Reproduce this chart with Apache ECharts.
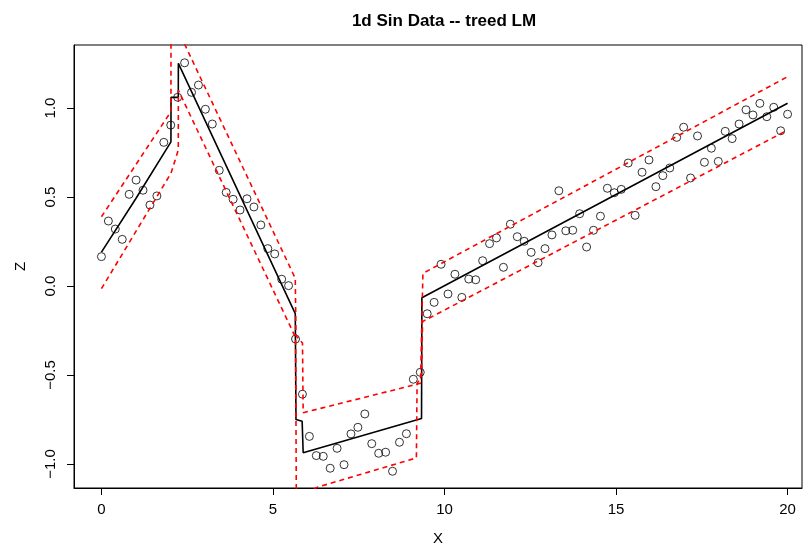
<!DOCTYPE html>
<html>
<head>
<meta charset="utf-8">
<script src="https://cdn.jsdelivr.net/npm/echarts@6/dist/echarts.min.js"></script>
<style>html,body{margin:0;padding:0;background:#fff}#c{width:808px;height:551px}</style>
</head>
<body>
<div id="c"></div>
<script>
// Observed data points
var xPts = [0,0.202,0.404,0.606,0.808,1.010,1.212,1.414,1.616,1.818,2.020,2.222,2.424,2.626,2.828,3.030,3.232,3.434,3.636,3.838,4.040,4.242,4.444,4.646,4.848,5.051,5.253,5.455,5.657,5.859,6.061,6.263,6.465,6.667,6.869,7.071,7.273,7.475,7.677,7.879,8.081,8.283,8.485,8.687,8.889,9.091,9.293,9.495,9.697,9.899,10.101,10.303,10.505,10.707,10.909,11.111,11.313,11.515,11.717,11.919,12.121,12.323,12.525,12.727,12.929,13.131,13.333,13.535,13.737,13.939,14.141,14.343,14.545,14.747,14.949,15.152,15.354,15.556,15.758,15.960,16.162,16.364,16.566,16.768,16.970,17.172,17.374,17.576,17.778,17.980,18.182,18.384,18.586,18.788,18.990,19.192,19.394,19.596,19.798,20.0];
var zPts = [0.165,0.365,0.32,0.262,0.515,0.595,0.538,0.455,0.506,0.807,0.904,1.06,1.254,1.088,1.129,0.993,0.91,0.65,0.526,0.487,0.427,0.49,0.444,0.343,0.21,0.18,0.038,0.002,-0.298,-0.608,-0.845,-0.953,-0.957,-1.024,-0.912,-1.004,-0.831,-0.794,-0.719,-0.886,-0.94,-0.934,-1.041,-0.878,-0.83,-0.524,-0.485,-0.156,-0.092,0.122,-0.045,0.066,-0.064,0.039,0.035,0.142,0.238,0.27,0.105,0.347,0.277,0.251,0.189,0.131,0.21,0.287,0.535,0.31,0.313,0.406,0.219,0.313,0.392,0.549,0.524,0.543,0.691,0.397,0.639,0.708,0.558,0.62,0.663,0.835,0.892,0.607,0.843,0.695,0.774,0.7,0.869,0.828,0.91,0.99,0.961,1.026,0.951,1.004,0.872,0.965];

// Treed LM predictive mean
var meanX = [0,1.0,2.026,2.028,2.24,2.242,5.65,5.67,5.85,5.88,9.33,9.34,20];
var meanZ = [0.19,0.49,0.81,1.06,1.06,1.251,-0.155,-0.75,-0.76,-0.937,-0.745,-0.066,1.027];

// Upper quantile
var upX = [0,2.026,2.028,2.24,2.242,5.65,5.67,5.86,5.88,9.30,9.37,20];
var upZ = [0.389,0.98,1.55,1.55,1.433,0.043,-0.28,-0.32,-0.712,-0.547,0.071,1.176];

// Lower quantile
var loX = [0,2.026,2.24,2.242,5.66,5.68,6.3,9.18,9.20,9.33,9.36,20];
var loZ = [-0.015,0.633,0.764,1.10,-0.29,-1.2,-1.13,-0.966,-0.55,-0.5,-0.2,0.876];

var xTicks = [0,5,10,15,20];
var yTicks = [-1,-0.5,0,0.5,1];
var yTickLabels = ['\u22121.0','\u22120.5','0.0','0.5','1.0'];

function pairs(a,b){var r=[];for(var i=0;i<a.length;i++)r.push([a[i],b[i]]);return r;}

var chart = echarts.init(document.getElementById('c'), null, {renderer:'canvas'});
var font = 'Liberation Sans, Arial, Helvetica, sans-serif';
chart.setOption({
  animation:false,
  backgroundColor:'#fff',
  title:{text:'1d Sin Data -- treed LM',left:439,top:8,textAlign:'center',
    textStyle:{fontFamily:font,fontWeight:'bold',fontSize:17,color:'#000'}},
  grid:{left:74,right:6,top:45,bottom:63,show:true,borderColor:'#000',borderWidth:1,backgroundColor:'transparent'},
  xAxis:{type:'value',min:-0.80,max:20.42,position:'bottom',
    name:'X',nameLocation:'middle',nameGap:43,
    nameTextStyle:{fontFamily:font,fontSize:15,color:'#000'},
    axisLine:{show:true,onZero:false,lineStyle:{color:'#000',width:1}},splitLine:{show:false},
    axisTick:{show:true,length:7,inside:false,customValues:xTicks,lineStyle:{color:'#000',width:1}},
    axisLabel:{customValues:xTicks,margin:14,fontFamily:font,fontSize:15,color:'#000'}},
  yAxis:{type:'value',min:-1.135,max:1.354,position:'left',
    name:'Z',nameLocation:'middle',nameGap:46,nameRotate:90,
    nameTextStyle:{fontFamily:font,fontSize:15,color:'#000'},
    axisLine:{show:true,onZero:false,lineStyle:{color:'#000',width:1}},splitLine:{show:false},
    axisTick:{show:true,length:7,inside:false,customValues:yTicks,lineStyle:{color:'#000',width:1}},
    axisLabel:{customValues:yTicks,rotate:90,margin:16,fontFamily:font,fontSize:15,color:'#000',
      formatter:function(v){var i=yTicks.indexOf(v);return i>=0?yTickLabels[i]:'';}}},
  series:[
    {type:'scatter',data:pairs(xPts,zPts),symbol:'circle',symbolSize:8,
     itemStyle:{color:'rgba(0,0,0,0)',borderColor:'#000',borderWidth:1},z:2},
    {type:'line',data:pairs(meanX,meanZ),showSymbol:false,clip:true,
     lineStyle:{color:'#000',width:1.6},z:3},
    {type:'line',data:pairs(upX,upZ),showSymbol:false,clip:true,
     lineStyle:{color:'#ff0000',width:1.6,type:[5,4]},z:3},
    {type:'line',data:pairs(loX,loZ),showSymbol:false,clip:true,
     lineStyle:{color:'#ff0000',width:1.6,type:[5,4]},z:3}
  ]
});
</script>
</body>
</html>
